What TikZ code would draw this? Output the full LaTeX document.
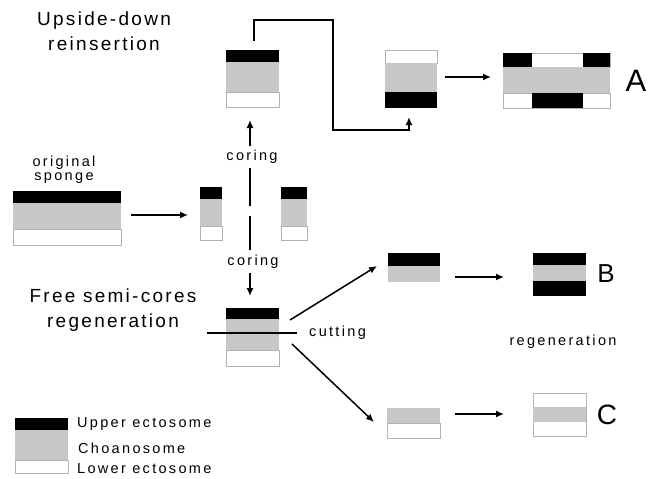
\documentclass[tikz,border=0pt]{standalone}
\usepackage{fontspec}
\newfontfamily\lf[LetterSpace=12]{Liberation Sans}
\newfontfamily\lfs[LetterSpace=16]{Liberation Sans}
\newfontfamily\lfl{Liberation Sans}
\usetikzlibrary{arrows.meta}
\tikzset{
  blk/.style={fill=black},
  cho/.style={fill=black!22},
  wht/.style={fill=white,draw=black!30,line width=0.6pt},
  arr/.style={line width=1.5pt,-{Latex[length=8pt,width=7pt]}},
  conn/.style={line width=1.7pt},
  big/.style={font=\lf\fontsize{19}{25}\selectfont,align=center,inner sep=0},
  small/.style={font=\lfs\fontsize{14.5}{16}\selectfont,inner sep=0},
  letter/.style={font=\lfl\fontsize{#1}{#1}\selectfont,inner sep=0},
}
\newcommand\lay[5]{\path[#1] (#2,#3) rectangle (#4,#5);}
\begin{document}
\begin{tikzpicture}[x=1pt,y=-1pt]
\useasboundingbox[fill=white] (0,0) rectangle (656,479);
% titles
\node[big] (t1) at (104,31) {Upside-down\\reinsertion};
\node[big] (t2) at (113,310) {Free semi-cores\\regeneration};
% original sponge
\node[small,align=center] (os) at (64,170) {original\\[-2pt]sponge};
\lay{wht}{13}{229}{121}{245}
\lay{cho}{13}{203}{121}{229}
\lay{blk}{13}{191}{121}{203}
% arrow to cores
\coordinate (o1) at (131,215);
\coordinate (o2) at (188,215);
\draw[arr] (o1) -- (o2);
% cored pieces
\lay{wht}{200}{226}{222}{240}
\lay{cho}{200}{199}{222}{226}
\lay{blk}{200}{187}{222}{199}
\lay{wht}{281}{226}{307}{240}
\lay{cho}{281}{199}{307}{226}
\lay{blk}{281}{187}{307}{199}
% coring line
\node[small] (c1) at (252,157) {coring};
\node[small] (c2) at (253,262) {coring};
\coordinate (v1) at (250,146);
\coordinate (v2) at (250,120);
\coordinate (v3) at (250,168);
\coordinate (v4) at (250,206);
\coordinate (v5) at (250,216);
\coordinate (v6) at (250,250);
\coordinate (v7) at (250,273);
\coordinate (v8) at (250,296);
\draw[arr] (v1) -- (v2);
\draw[line width=1.5pt] (v3) -- (v4);
\draw[line width=1.5pt] (v5) -- (v6);
\draw[arr] (v7) -- (v8);
% top core
\lay{wht}{226}{92}{279}{107}
\lay{cho}{226}{62}{279}{92}
\lay{blk}{226}{50}{279}{62}
% reinsertion connector
\coordinate (r0) at (254,41);
\coordinate (r4) at (409,117);
\draw[conn,-{Latex[length=8pt,width=7pt]}] (r0) |- (333,20) |- (409,130) -- (r4);
% inverted core
\lay{wht}{385}{50}{437}{63}
\lay{cho}{385}{63}{437}{92}
\lay{blk}{385}{92}{437}{108}
\coordinate (a1) at (445,77);
\coordinate (a2) at (491,77);
\draw[arr] (a1) -- (a2);
% result A
\lay{wht}{503}{93}{610}{108}
\lay{wht}{503}{53}{610}{67}
\lay{cho}{503}{67}{610}{93}
\lay{blk}{503}{53}{532}{67}
\lay{blk}{583}{53}{610}{67}
\lay{blk}{532}{93}{583}{108}
\node[letter=31] (A) at (636,81) {A};
% free semi-core
\lay{wht}{226}{350}{279}{366}
\lay{cho}{226}{319}{279}{350}
\lay{blk}{226}{308}{279}{319}
\coordinate (k1) at (207,333);
\coordinate (k2) at (297,333);
\draw[line width=1.8pt] (k1) -- (k2);
\node[small,anchor=west] (cut) at (309,333) {cutting};
\coordinate (d0) at (290,320);
\coordinate (d1) at (377,266);
\coordinate (e0) at (292,344);
\coordinate (e1) at (374,422);
\draw[arr] (d0) -- (d1);
\draw[arr] (e0) -- (e1);
% B
\lay{cho}{388}{266}{440}{282}
\lay{blk}{388}{253}{440}{266}
\coordinate (b1) at (455,277);
\coordinate (b2) at (504,277);
\draw[arr] (b1) -- (b2);
\lay{cho}{533}{265}{586}{281}
\lay{blk}{533}{253}{586}{265}
\lay{blk}{533}{281}{586}{296}
\node[letter=26] (B) at (606,274) {B};
\node[small] (reg) at (563,342) {regeneration};
% C
\lay{wht}{387}{423}{440}{438}
\lay{cho}{387}{408}{440}{423}
\coordinate (g1) at (455,414);
\coordinate (g2) at (504,414);
\draw[arr] (g1) -- (g2);
\lay{wht}{533}{393}{586}{436}
\lay{cho}{533}{407}{586}{422}
\node[letter=28] (C) at (607,415) {C};
% legend
\lay{wht}{15}{460}{68}{473}
\lay{cho}{15}{430}{68}{460}
\lay{blk}{15}{418}{68}{430}
\node[small,anchor=west] (l1) at (77,424) {Upper ectosome};
\node[small,anchor=west] (l2) at (78,448) {Choanosome};
\node[small,anchor=west] (l3) at (77,469) {Lower ectosome};
\end{tikzpicture}
\end{document}
